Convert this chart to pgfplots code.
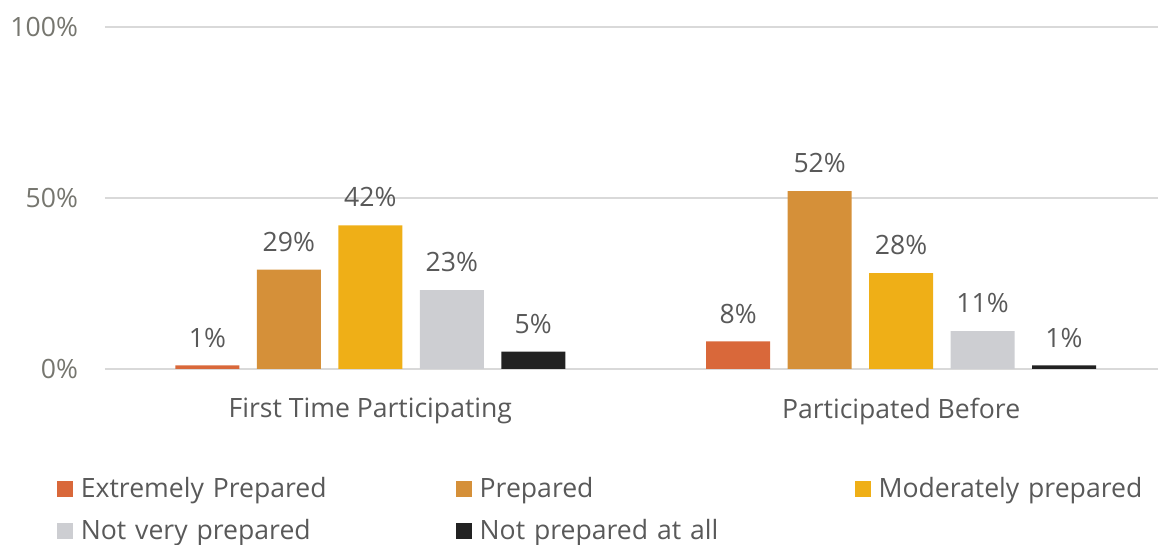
\documentclass[border=0pt]{standalone}
\usepackage{fontspec}
\setmainfont{Open Sans}
\usepackage{pgfplots}
\pgfplotsset{compat=1.18}
\definecolor{cExt}{HTML}{D9683A}
\definecolor{cPrep}{HTML}{D59039}
\definecolor{cMod}{HTML}{EFAF17}
\definecolor{cNot}{HTML}{CDCED2}
\definecolor{cNone}{HTML}{222222}
\definecolor{gridgray}{HTML}{D9D9D9}
\definecolor{txtgray}{HTML}{595959}
\definecolor{tickgray}{HTML}{76766F}
\newcommand{\fs}{\fontsize{13.3}{15}\selectfont}
\begin{document}
\begin{tikzpicture}
\begin{axis}[name=ax,
  /pgf/number format/assume math mode=true,
  x=265.5pt, y=1.71pt,
  xmin=-0.5, xmax=1.484, ymin=0, ymax=100,
  axis line style={draw=none},
  major tick length=0pt,
  ymajorgrids, grid style={draw=gridgray, line width=1pt},
  ytick={0,50,100},
  yticklabel={\pgfmathprintnumber{\tick}\%},
  yticklabel style={font=\fs, text=tickgray, xshift=-10pt},
  xtick={0,1},
  xticklabels={First Time Participating, Participated Before},
  xticklabel style={font=\fs, text=txtgray, yshift=-11pt},
  ybar=8.75pt, bar width=32pt,
  nodes near coords={\pgfmathprintnumber{\pgfplotspointmeta}\%},
  every node near coord/.append style={font=\fs, text=txtgray, yshift=5.5pt},
  clip=false,
  legend columns=3,
  legend cell align=left,
  legend image code/.code={\fill[#1] (0pt,-4pt) rectangle (8pt,4pt); \path (9.5pt,0pt);},
  legend style={draw=none, fill=none, at={(0,0)}, anchor=north west,
    xshift=-24pt, yshift=-52pt, inner sep=0pt, font=\fs, text=txtgray,
    nodes={inner xsep=2.25pt, inner ysep=2pt},
    /tikz/every even column/.append style={text width=185.5pt},
    row sep=5.5pt},
]
\addplot[fill=cExt, draw=none] coordinates {(0,1) (1,8)};
\addlegendentry{Extremely Prepared}
\addplot[fill=cPrep, draw=none] coordinates {(0,29) (1,52)};
\addlegendentry{Prepared}
\addplot[fill=cMod, draw=none] coordinates {(0,42) (1,28)};
\addlegendentry{Moderately prepared}
\addplot[fill=cNot, draw=none] coordinates {(0,23) (1,11)};
\addlegendentry{Not very prepared}
\addplot[fill=cNone, draw=none] coordinates {(0,5) (1,1)};
\addlegendentry{Not prepared at all}
\end{axis}
\pgfresetboundingbox
\path ([xshift=-52.5pt,yshift=-88pt]ax.south west) rectangle ([yshift=13.5pt]ax.north east);
\end{tikzpicture}
\end{document}
